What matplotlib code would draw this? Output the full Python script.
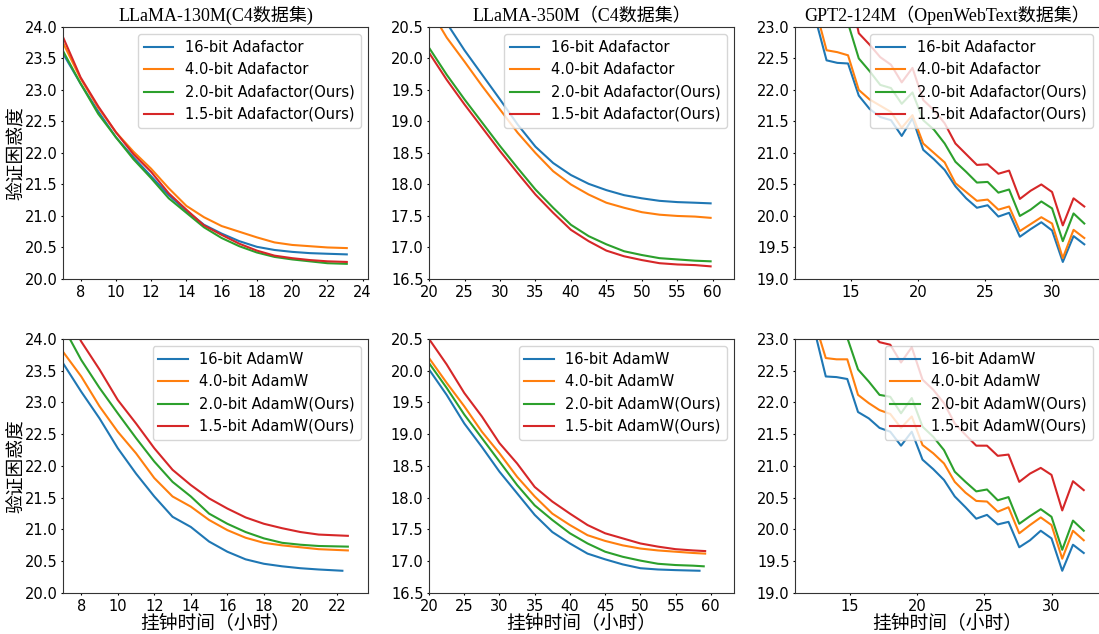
## Validation perplexity vs wall-clock time for low-bit optimizers (2 x 3 grid).

import numpy as np
import matplotlib
matplotlib.use('Agg')
import matplotlib.pyplot as plt

## LLaMA-130M, Adafactor (top left)
x_130_ada = [7, 8, 9, 10, 11, 12, 13, 14, 15, 16, 17, 18, 19, 20, 21, 22, 23.1]
b16_130_ada = [23.58, 23.10, 22.66, 22.25, 21.93, 21.63, 21.33, 21.08, 20.86, 20.72, 20.60, 20.51, 20.46, 20.43, 20.41, 20.40, 20.39]
b40_130_ada = [23.75, 23.18, 22.72, 22.33, 22.02, 21.75, 21.44, 21.16, 20.98, 20.84, 20.75, 20.66, 20.58, 20.54, 20.52, 20.50, 20.49]
b20_130_ada = [23.62, 23.10, 22.62, 22.25, 21.90, 21.60, 21.28, 21.05, 20.82, 20.65, 20.52, 20.42, 20.35, 20.31, 20.28, 20.25, 20.24]
b15_130_ada = [23.84, 23.20, 22.74, 22.33, 21.98, 21.70, 21.36, 21.10, 20.85, 20.70, 20.56, 20.45, 20.37, 20.33, 20.30, 20.28, 20.27]

## LLaMA-350M, Adafactor (top middle)
x_350_ada = [20, 22.5, 25, 27.5, 30, 32.5, 35, 37.5, 40, 42.5, 45, 47.5, 50, 52.5, 55, 57.5, 59.7]
b16_350_ada = [21.00, 20.56, 20.13, 19.74, 19.35, 18.95, 18.60, 18.34, 18.15, 18.01, 17.91, 17.83, 17.78, 17.74, 17.72, 17.71, 17.70]
b40_350_ada = [20.80, 20.33, 19.95, 19.56, 19.19, 18.82, 18.50, 18.21, 18.00, 17.84, 17.71, 17.63, 17.56, 17.52, 17.50, 17.49, 17.47]
b20_350_ada = [20.17, 19.74, 19.35, 18.98, 18.61, 18.26, 17.92, 17.63, 17.36, 17.18, 17.05, 16.94, 16.88, 16.83, 16.81, 16.79, 16.78]
b15_350_ada = [20.09, 19.66, 19.27, 18.90, 18.53, 18.18, 17.84, 17.55, 17.28, 17.10, 16.95, 16.86, 16.80, 16.75, 16.73, 16.72, 16.70]

## GPT2-124M, Adafactor (top right)
x_gpt = [12.39, 13.19, 13.99, 14.79, 15.59, 16.39, 17.19, 17.99, 18.79, 19.59, 20.39, 21.19, 21.99,
         22.79, 23.59, 24.39, 25.19, 25.99, 26.79, 27.59, 28.39, 29.19, 29.99, 30.79, 31.59, 32.39]
b16_gpt_ada = [23.11, 22.47, 22.43, 22.42, 21.91, 21.70, 21.57, 21.52, 21.27, 21.55, 21.05, 20.90, 20.73,
               20.47, 20.28, 20.13, 20.17, 19.99, 20.05, 19.67, 19.79, 19.90, 19.77, 19.27, 19.68, 19.55]
b40_gpt_ada = [23.27, 22.63, 22.60, 22.55, 22.00, 21.85, 21.75, 21.65, 21.40, 21.60, 21.15, 21.00, 20.85,
               20.52, 20.38, 20.24, 20.26, 20.10, 20.15, 19.76, 19.87, 19.98, 19.88, 19.33, 19.78, 19.65]
b20_gpt_ada = [23.20, 23.12, 23.08, 23.06, 22.50, 22.30, 22.08, 22.03, 21.78, 21.96, 21.52, 21.37, 21.15,
               20.86, 20.70, 20.53, 20.54, 20.37, 20.42, 20.00, 20.10, 20.23, 20.12, 19.60, 20.04, 19.88]
b15_gpt_ada = [23.90, 23.85, 23.80, 23.70, 22.90, 22.72, 22.52, 22.40, 22.12, 22.35, 21.84, 21.68, 21.47,
               21.15, 20.98, 20.81, 20.82, 20.67, 20.72, 20.27, 20.40, 20.50, 20.38, 19.85, 20.28, 20.15]

## LLaMA-130M, AdamW (bottom left)
x_130_adam = [7, 8, 9, 10, 11, 12, 13, 14, 15, 16, 17, 18, 19, 20, 21, 22.3]
b16_130_adam = [23.62, 23.17, 22.75, 22.28, 21.88, 21.52, 21.20, 21.04, 20.81, 20.65, 20.53, 20.46, 20.42, 20.39, 20.37, 20.35]
x_130_adam_b = [7, 8, 9, 10, 11, 12, 13, 14, 15, 16, 17, 18, 19, 20, 21, 22.6]
b40_130_adam = [23.80, 23.41, 22.94, 22.54, 22.20, 21.81, 21.52, 21.36, 21.15, 20.99, 20.87, 20.79, 20.75, 20.72, 20.69, 20.67]
b20_130_adam = [24.20, 23.67, 23.23, 22.83, 22.44, 22.07, 21.75, 21.52, 21.25, 21.09, 20.96, 20.86, 20.79, 20.76, 20.74, 20.73]
b15_130_adam = [24.50, 23.96, 23.52, 23.04, 22.67, 22.28, 21.94, 21.70, 21.49, 21.33, 21.19, 21.09, 21.02, 20.96, 20.92, 20.90]

## LLaMA-350M, AdamW (bottom middle)
x_350_adam = [20, 22.5, 25, 27.5, 30, 32.5, 35, 37.5, 40, 42.5, 45, 47.5, 50, 52.5, 55, 58.4]
b16_350_adam = [20.02, 19.62, 19.17, 18.80, 18.41, 18.07, 17.73, 17.46, 17.28, 17.12, 17.03, 16.95, 16.89, 16.87, 16.86, 16.85]
x_350_adam_b = [20, 22.5, 25, 27.5, 30, 32.5, 35, 37.5, 40, 42.5, 45, 47.5, 50, 52.5, 55, 57.5, 59.2]
b40_350_adam = [20.20, 19.81, 19.44, 19.04, 18.70, 18.33, 18.02, 17.75, 17.57, 17.41, 17.32, 17.25, 17.20, 17.17, 17.15, 17.13, 17.12]
b20_350_adam = [20.12, 19.73, 19.31, 18.94, 18.57, 18.20, 17.88, 17.65, 17.44, 17.28, 17.15, 17.07, 17.01, 16.96, 16.94, 16.93, 16.92]
b15_350_adam = [20.50, 20.10, 19.65, 19.28, 18.86, 18.54, 18.17, 17.94, 17.75, 17.57, 17.44, 17.36, 17.28, 17.23, 17.19, 17.17, 17.16]

## GPT2-124M, AdamW (bottom right)
b16_gpt_adam = [23.10, 22.41, 22.40, 22.37, 21.85, 21.75, 21.60, 21.54, 21.32, 21.54, 21.10, 20.95, 20.78,
                20.52, 20.35, 20.17, 20.23, 20.08, 20.12, 19.72, 19.83, 19.98, 19.86, 19.35, 19.76, 19.63]
b40_gpt_adam = [23.25, 22.70, 22.68, 22.68, 22.12, 21.99, 21.88, 21.82, 21.60, 21.78, 21.33, 21.20, 21.04,
                20.75, 20.58, 20.45, 20.44, 20.28, 20.35, 19.94, 20.07, 20.19, 20.07, 19.54, 19.98, 19.83]
b20_gpt_adam = [23.20, 23.15, 23.10, 23.02, 22.52, 22.33, 22.12, 22.09, 21.83, 22.07, 21.62, 21.46, 21.25,
                20.91, 20.75, 20.60, 20.63, 20.46, 20.51, 20.09, 20.21, 20.32, 20.20, 19.68, 20.14, 19.98]
b15_gpt_adam = [23.80, 23.70, 23.60, 23.50, 23.40, 23.15, 22.95, 22.91, 22.63, 22.87, 22.36, 22.20, 21.99,
                21.67, 21.49, 21.32, 21.32, 21.16, 21.18, 20.75, 20.88, 20.97, 20.86, 20.30, 20.76, 20.62]

ada_labels = ['16-bit Adafactor', '4.0-bit Adafactor', '2.0-bit Adafactor(Ours)', '1.5-bit Adafactor(Ours)']
adam_labels = ['16-bit AdamW', '4.0-bit AdamW', '2.0-bit AdamW(Ours)', '1.5-bit AdamW(Ours)']
titles = ['LLaMA-130M(C4数据集)', 'LLaMA-350M（C4数据集）', 'GPT2-124M（OpenWebText数据集）']
ylabel = '验证困惑度'
xlabel = '挂钟时间（小时）'

colors = ['#1f77b4', '#ff7f0e', '#2ca02c', '#d62728']
cjk = ['Noto Sans CJK SC', 'DejaVu Sans']
title_font = ['Liberation Serif', 'Noto Sans CJK SC']

plt.rcParams['font.size'] = 10.5

fig = plt.figure(figsize=(10.99, 6.34), dpi=100)
lefts = [0.0573, 0.3904, 0.7234]
w = 0.2775
axes_top = [fig.add_axes([l, 0.560, w, 0.3975]) for l in lefts]
axes_bot = [fig.add_axes([l, 0.0647, w, 0.4006]) for l in lefts]

## (x per series, y per series) for each panel
panels_top = [
    ([x_130_ada] * 4, [b16_130_ada, b40_130_ada, b20_130_ada, b15_130_ada]),
    ([x_350_ada] * 4, [b16_350_ada, b40_350_ada, b20_350_ada, b15_350_ada]),
    ([x_gpt] * 4, [b16_gpt_ada, b40_gpt_ada, b20_gpt_ada, b15_gpt_ada]),
]
panels_bot = [
    ([x_130_adam, x_130_adam_b, x_130_adam_b, x_130_adam_b], [b16_130_adam, b40_130_adam, b20_130_adam, b15_130_adam]),
    ([x_350_adam, x_350_adam_b, x_350_adam_b[:-1] + [59.0], x_350_adam_b], [b16_350_adam, b40_350_adam, b20_350_adam, b15_350_adam]),
    ([x_gpt] * 4, [b16_gpt_adam, b40_gpt_adam, b20_gpt_adam, b15_gpt_adam]),
]

xlims_top = [(7, 24.3), (20, 63), (10.84, 33.56)]
xlims_bot = [(7, 23.7), (20, 63.3), (10.9, 33.6)]
ylims = [(20.0, 24.0), (16.5, 20.5), (19.0, 23.0)]
xticks = [np.arange(8, 25, 2), np.arange(20, 61, 5), np.arange(15, 31, 5)]

for row, (axs, panels, xlims, labels) in enumerate([(axes_top, panels_top, xlims_top, ada_labels),
                                                     (axes_bot, panels_bot, xlims_bot, adam_labels)]):
    for i, ax in enumerate(axs):
        xs, ys = panels[i]
        for k in range(4):
            ax.plot(xs[k], ys[k], color=colors[k], lw=1.5, label=labels[k])
        ax.set_xticks(xticks[i])
        ax.set_yticks(np.arange(ylims[i][0], ylims[i][1] + 0.01, 0.5))
        ax.set_xlim(*xlims[i])  # after ticks so out-of-range ticks are dropped
        ax.set_ylim(*ylims[i])
        ax.yaxis.set_major_formatter(matplotlib.ticker.FormatStrFormatter('%.1f'))
        ax.tick_params(labelsize=10.5, length=1.5, pad=2.5)
        for s in ax.spines.values():
            s.set_color('#333333')
        ax.legend(loc='upper right', fontsize=10.5)
        if row == 0:
            ax.set_title(titles[i], family=title_font, fontsize=13, pad=4)
        else:
            ax.set_xlabel(xlabel, family=cjk, fontsize=13.5)
            ax.xaxis.set_label_coords(0.5, -0.12)
            ax.xaxis.label.set_va('center')
        if i == 0:
            ax.set_ylabel(ylabel, family=cjk, fontsize=13.5)
            ax.yaxis.set_label_coords(-0.152, 0.5)
            ax.yaxis.label.set_va('center')

fig.savefig('out.png', dpi=100)
